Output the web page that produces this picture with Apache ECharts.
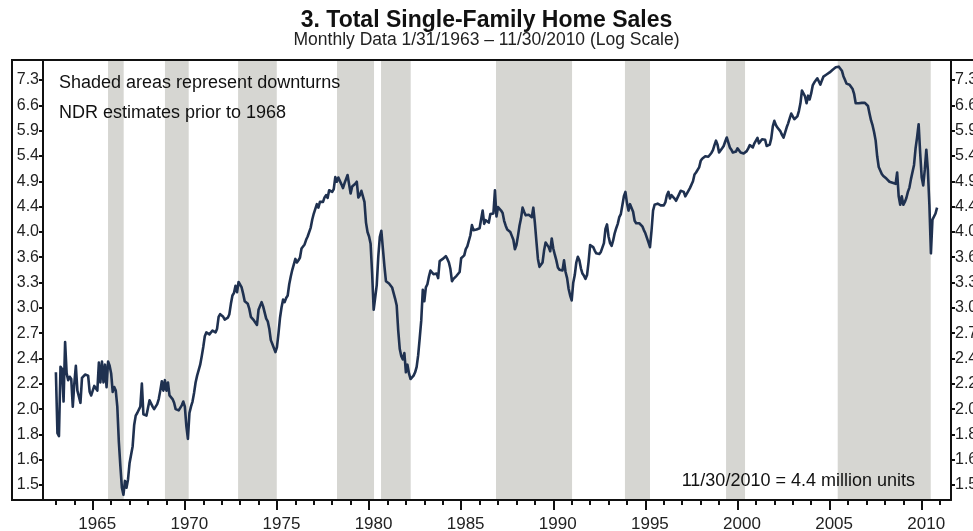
<!DOCTYPE html>
<html>
<head>
<meta charset="utf-8">
<script src="https://cdn.jsdelivr.net/npm/echarts@6/dist/echarts.min.js"></script>
<style>
  html, body { margin: 0; padding: 0; background: #ffffff; }
  #chart { width: 973px; height: 531px; }
</style>
</head>
<body>
<div id="chart"></div>
<script>
// Total single-family home sales, millions of units, monthly from Jan 1963.
const FIRST_YEAR = 1963;

const sales1960s = [
  2.31, 1.82, 1.80, 2.36, 2.34, 2.06, 2.60, 2.30, 2.24, 2.27, 2.25, 2.02,
  2.21, 2.37, 2.15, 2.10, 2.05, 2.26, 2.27, 2.29, 2.30, 2.28, 2.14, 2.11,
  2.10, 2.19, 2.18, 2.15, 2.40, 2.22, 2.41, 2.22, 2.38, 2.18, 2.41, 2.37,
  2.30, 2.14, 2.18, 2.15, 2.02, 1.76, 1.60, 1.47, 1.43, 1.51, 1.47, 1.52,
  1.62, 1.63, 1.73, 1.88, 1.95, 1.97, 1.98, 2.02, 2.21, 1.96, 1.95, 1.95,
  1.94, 2.07, 2.06, 2.02, 2.00, 2.00, 2.04, 2.08, 2.15, 2.23, 2.15, 2.24,
  2.15, 2.22, 2.11, 2.10, 2.08, 2.05, 2.00, 1.99, 1.99, 1.99, 2.03, 2.06
];
const sales1970s = [
  2.02, 1.87, 1.78, 1.97, 2.02, 2.06, 2.13, 2.22, 2.28, 2.29, 2.38, 2.46,
  2.55, 2.66, 2.70, 2.70, 2.68, 2.67, 2.72, 2.71, 2.70, 2.74, 2.87, 2.90,
  2.92, 2.87, 2.84, 2.83, 2.86, 2.90, 3.02, 3.12, 3.15, 3.24, 3.16, 3.29,
  3.29, 3.22, 3.14, 3.05, 3.03, 3.02, 2.96, 2.87, 2.85, 2.83, 2.85, 2.78,
  2.95, 2.97, 3.04, 2.99, 3.00, 2.85, 2.82, 2.74, 2.62, 2.58, 2.56, 2.50,
  2.55, 2.69, 2.86, 2.98, 3.07, 3.04, 3.09, 3.12, 3.26, 3.36, 3.45, 3.47,
  3.60, 3.55, 3.58, 3.62, 3.75, 3.78, 3.81, 3.88, 3.93, 3.92, 4.07, 4.20,
  4.30, 4.27, 4.46, 4.40, 4.50, 4.47, 4.50, 4.58, 4.62, 4.57, 4.71, 4.74,
  4.68, 4.73, 4.96, 4.87, 4.95, 4.93, 4.82, 4.75, 4.84, 4.92, 5.00, 4.82,
  4.65, 4.78, 4.80, 4.83, 4.87, 4.58, 4.62, 4.70, 4.71, 4.50, 4.15, 4.00
];
const sales1980s = [
  3.93, 3.82, 3.40, 2.95, 2.97, 3.25, 3.63, 3.92, 4.02, 3.75, 3.50, 3.30,
  3.29, 3.27, 3.26, 3.22, 3.15, 3.08, 3.00, 2.72, 2.53, 2.46, 2.43, 2.49,
  2.31, 2.38, 2.30, 2.25, 2.26, 2.28, 2.31, 2.36, 2.47, 2.64, 2.83, 3.19,
  3.05, 3.22, 3.26, 3.36, 3.44, 3.43, 3.39, 3.38, 3.40, 3.34, 3.57, 3.59,
  3.60, 3.61, 3.64, 3.60, 3.55, 3.46, 3.30, 3.33, 3.34, 3.37, 3.39, 3.42,
  3.61, 3.62, 3.65, 3.74, 3.78, 3.80, 3.95, 4.11, 4.03, 4.04, 4.04, 4.05,
  4.06, 4.03, 4.35, 4.13, 4.19, 4.17, 4.15, 4.29, 4.29, 4.30, 4.71, 4.25,
  4.41, 4.40, 4.35, 4.31, 4.18, 4.10, 4.04, 4.02, 4.00, 3.94, 3.88, 3.74,
  3.80, 3.94, 4.10, 4.22, 4.40, 4.33, 4.27, 4.26, 4.28, 4.30, 4.24, 4.40,
  4.15, 3.86, 3.60, 3.49, 3.47, 3.55, 3.72, 3.84, 3.83, 3.77, 3.71, 3.90
];
const sales1990s = [
  3.75, 3.66, 3.58, 3.48, 3.45, 3.44, 3.44, 3.58, 3.42, 3.34, 3.20, 3.12,
  3.06, 3.28, 3.38, 3.55, 3.63, 3.58, 3.47, 3.40, 3.37, 3.33, 3.38, 3.56,
  3.80, 3.80, 3.77, 3.72, 3.68, 3.66, 3.67, 3.70, 3.72, 3.83, 4.05, 4.12,
  3.93, 3.83, 3.79, 3.87, 3.98, 4.06, 4.13, 4.24, 4.29, 4.44, 4.60, 4.68,
  4.48, 4.35, 4.46, 4.43, 4.33, 4.18, 4.14, 4.16, 4.14, 4.12, 4.09, 4.03,
  3.98, 3.91, 3.84, 3.77, 4.02, 4.35, 4.45, 4.48, 4.47, 4.46, 4.44, 4.44,
  4.44, 4.49, 4.62, 4.68, 4.56, 4.62, 4.64, 4.56, 4.52, 4.58, 4.64, 4.70,
  4.73, 4.68, 4.60, 4.63, 4.70, 4.75, 4.76, 4.88, 5.01, 5.05, 5.07, 5.15,
  5.28, 5.33, 5.36, 5.38, 5.41, 5.37, 5.40, 5.45, 5.51, 5.62, 5.72, 5.63,
  5.46, 5.50, 5.55, 5.60, 5.70, 5.79, 5.68, 5.57, 5.52, 5.46, 5.45, 5.48
];
const sales2000s = [
  5.55, 5.53, 5.46, 5.45, 5.44, 5.42, 5.49, 5.55, 5.62, 5.60, 5.57, 5.66,
  5.65, 5.78, 5.66, 5.67, 5.75, 5.74, 5.74, 5.60, 5.58, 5.63, 5.77, 6.05,
  6.18, 6.08, 6.02, 6.00, 5.93, 5.85, 5.79, 5.90, 6.02, 6.12, 6.24, 6.36,
  6.33, 6.22, 6.24, 6.29, 6.42, 6.62, 6.96, 6.92, 6.80, 6.62, 6.82, 6.72,
  6.88, 7.10, 7.18, 7.22, 7.30, 7.34, 7.12, 7.24, 7.35, 7.38, 7.41, 7.44,
  7.47, 7.50, 7.55, 7.58, 7.62, 7.66, 7.64, 7.60, 7.52, 7.36, 7.26, 7.15,
  7.12, 7.12, 7.14, 7.00, 6.86, 6.62, 6.58, 6.62, 6.62, 6.63, 6.66, 6.63,
  6.61, 6.55, 6.36, 6.19, 6.07, 5.91, 5.72, 5.38, 5.16, 5.09, 5.02, 4.98,
  4.97, 4.93, 4.90, 4.87, 4.86, 4.85, 4.85, 4.83, 5.05, 4.60, 4.45, 4.60,
  4.45, 4.50, 4.57, 4.68, 4.76, 4.92, 4.93, 5.20, 5.55, 5.80, 6.10, 5.45
];
const sales2010 = [4.95, 4.80, 5.10, 5.52, 5.10, 4.45, 3.68, 4.20, 4.20, 4.30, 4.40];

// Downturn periods, as decimal years [start, end].
const downturns = [
  [1965.83, 1966.68], [1968.92, 1970.21], [1972.89, 1974.99],
  [1978.26, 1980.27], [1980.65, 1982.26], [1986.89, 1991.02],
  [1993.89, 1995.25], [1999.38, 2000.41], [2005.44, 2010.49]
];

// Log-scale ticks, evenly spaced (ratio ~1.104), labelled to one decimal.
const yTickValues = [1.486, 1.641, 1.812, 2.000, 2.209, 2.439, 2.693, 2.973,
  3.283, 3.625, 4.002, 4.419, 4.879, 5.387, 5.948, 6.567, 7.251];
const yearTicks = [];
for (let y = 1963; y <= 2011; y++) yearTicks.push(y);
const labelYears = [1965, 1970, 1975, 1980, 1985, 1990, 1995, 2000, 2005, 2010];

const sales = [].concat(sales1960s, sales1970s, sales1980s, sales1990s, sales2000s, sales2010);
const seriesData = sales.map((v, i) => [FIRST_YEAR + i / 12, v]);
const lastValue = sales[sales.length - 1];

const FONT = '"Liberation Sans", Arial, Helvetica, sans-serif';
const INK = '#111111';
const TEXT = '#222222';

const yMin = 1.4014, yMax = 7.842;
const xMin = 1962.30, xMax = 2011.59;

function logAxis(position) {
  return {
    type: 'log', logBase: 10, position: position,
    min: yMin, max: yMax, z: 5,
    axisLine: { show: true, lineStyle: { color: INK, width: 2 } },
    axisTick: { show: true, inside: false, length: 4, customValues: yTickValues,
                lineStyle: { color: INK, width: 2 } },
    axisLabel: { show: true, customValues: yTickValues, margin: 4,
                 fontFamily: FONT, fontSize: 16, color: TEXT,
                 formatter: v => Number(v).toFixed(1) },
    splitLine: { show: false }, minorTick: { show: false }
  };
}

const chart = echarts.init(document.getElementById('chart'), null, { renderer: 'canvas' });
chart.setOption({
  animation: false,
  backgroundColor: '#ffffff',
  title: {
    text: '3. Total Single-Family Home Sales',
    subtext: 'Monthly Data 1/31/1963 \u2013 11/30/2010 (Log Scale)',
    left: 'center', top: 8, itemGap: -2, padding: 0,
    textStyle: { fontFamily: FONT, fontSize: 23, fontWeight: 'bold', color: INK, lineHeight: 26 },
    subtextStyle: { fontFamily: FONT, fontSize: 17.5, color: TEXT, lineHeight: 16 }
  },
  grid: { left: 43, right: 22, top: 60, bottom: 31, containLabel: false, outerBoundsMode: 'none' },
  xAxis: [
    {
      type: 'value', min: xMin, max: xMax, position: 'bottom', z: 5,
      axisLine: { show: true, onZero: false, lineStyle: { color: INK, width: 2 } },
      axisTick: { show: true, length: 5, customValues: yearTicks, lineStyle: { color: INK, width: 2 } },
      axisLabel: { show: false },
      splitLine: { show: false }
    },
    {
      type: 'value', min: xMin, max: xMax, position: 'bottom', z: 5,
      axisLine: { show: false, onZero: false },
      axisTick: { show: true, length: 10, customValues: labelYears, lineStyle: { color: INK, width: 2 } },
      axisLabel: { show: true, customValues: labelYears, margin: 16, padding: [0, 0, 0, 9],
                   fontFamily: FONT, fontSize: 17, color: TEXT, formatter: v => String(v) },
      splitLine: { show: false }
    }
  ],
  yAxis: [logAxis('left'), logAxis('right')],
  series: [
    {
      name: 'Total Single-Family Home Sales',
      type: 'line', xAxisIndex: 0, yAxisIndex: 0, z: 3,
      data: seriesData, showSymbol: false, symbol: 'none',
      lineStyle: { color: '#1f3150', width: 2.6, join: 'round' },
      markArea: {
        silent: true, z: 1,
        itemStyle: { color: '#d6d6d2' },
        data: downturns.map(([a, b]) => [{ xAxis: a }, { xAxis: b }])
      }
    }
  ],
  graphic: [
    { type: 'polyline', z: 10, silent: true,
      shape: { points: [[975, 60], [12, 60], [12, 500], [44, 500]] },
      style: { stroke: INK, lineWidth: 2, fill: null } },
    { type: 'text', left: 59, top: 74, z: 10, silent: true,
      style: { text: 'Shaded areas represent downturns', font: '18px ' + FONT, fill: INK } },
    { type: 'text', left: 59, top: 104, z: 10, silent: true,
      style: { text: 'NDR estimates prior to 1968', font: '18px ' + FONT, fill: INK } },
    { type: 'text', right: 58, top: 472, z: 10, silent: true,
      style: { text: '11/30/2010 = ' + lastValue.toFixed(1) + ' million units', font: '18px ' + FONT, fill: INK } }
  ]
});
</script>
</body>
</html>
